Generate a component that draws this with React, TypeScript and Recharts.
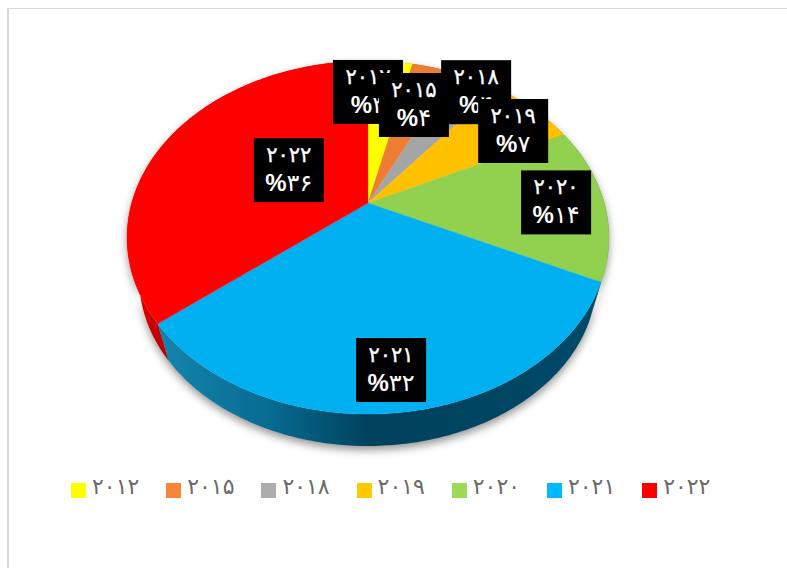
import { Legend, Pie, PieChart } from 'recharts'

const years = ['2012', '2015', '2018', '2019', '2020', '2021', '2022']
const shares = [3.6, 3.5, 3.7, 7, 14.2, 32.2, 35.7]
const percentLabels = [3, 4, 4, 7, 14, 32, 36]

const sliceColors = ['#FFFF00', '#ED7D31', '#A5A5A5', '#FFC000', '#92D050', '#00B0F0', '#FF0000']
const legendColors = ['#FFFF00', '#F98636', '#ADADAD', '#FFC800', '#9CDB55', '#00B9FF', '#FF0000']
const wallFills = ['#a0a000', '#9a4f1e', '#6a6a6a', '#a07a00', '#5c8432', 'url(#wallBlue)', 'url(#wallRed)']

// how far each label box sits from its slice anchor
const labelShifts = [
  [-17.5, -0.6],
  [-5.5, 7.6],
  [24, -15],
  [18, 0.6],
  [11, 0],
  [-1, 19],
  [71, 19],
]

const chartData = years.map((year, i) => ({
  name: year,
  value: shares[i],
  fill: sliceColors[i],
  percent: percentLabels[i],
}))

const WIDTH = 787
const HEIGHT = 568
const CX = 368
const CY = 203
const RADIUS = 236.3
const Y_RATIO = 169.8 / 236.3
const TILT = 0.1955
const BASE_SCALE = 0.95
const BASE_DROP = 42.5
const DIGIT_FONT = '"DejaVu Sans", sans-serif'
const PERCENT_FONT = '"Liberation Sans", "DejaVu Sans", sans-serif'

const toPersian = (n: number | string) =>
  String(n).replace(/\d/g, (d) => '۰۱۲۳۴۵۶۷۸۹'[Number(d)])

// perspective view of the disc: angle in degrees, r from 0 to 1
const project = (angle: number, r = 1, scale = 1, drop = 0) => {
  const a = (angle * Math.PI) / 180
  const u = r * Math.cos(a)
  const v = r * Math.sin(a)
  const w = 1 + TILT * v
  return {
    x: CX + (scale * RADIUS * u) / w,
    y: CY + drop - (scale * RADIUS * Y_RATIO * v) / w,
  }
}

const arcPoints = (start: number, end: number, scale = 1, drop = 0) => {
  const steps = Math.max(2, Math.ceil(Math.abs(start - end)))
  const pts: string[] = []
  for (let i = 0; i <= steps; i++) {
    const p = project(start + ((end - start) * i) / steps, 1, scale, drop)
    pts.push(`${p.x.toFixed(2)},${p.y.toFixed(2)}`)
  }
  return pts
}

const TopSlice = (props: any) => {
  const { startAngle, endAngle, fill } = props
  const d = `M${CX},${CY} L${arcPoints(startAngle, endAngle).join(' L')} Z`
  return <path d={d} fill={fill} stroke={fill} strokeWidth={0.3} />
}

const WallSlice = (props: any) => {
  const { startAngle, endAngle, index } = props
  const top = arcPoints(startAngle, endAngle)
  const bottom = arcPoints(startAngle, endAngle, BASE_SCALE, BASE_DROP).reverse()
  return <path d={`M${top.concat(bottom).join(' L')} Z`} fill={wallFills[index]} />
}

const renderLabel = (props: any) => {
  const { midAngle, index } = props
  const anchor = project(midAngle, 0.75)
  const x = anchor.x + labelShifts[index][0]
  const y = anchor.y + labelShifts[index][1]
  return (
    <g key={index}>
      <rect x={x - 35} y={y - 32} width={70} height={64} fill="#000000" />
      <text
        x={x}
        y={y - 8}
        textAnchor="middle"
        fill="#ffffff"
        stroke="#ffffff"
        strokeWidth={0.35}
        fontFamily={DIGIT_FONT}
        fontSize={21}
        letterSpacing={4}
      >
        {toPersian(years[index])}
      </text>
      <text
        x={x}
        y={y + 21}
        textAnchor="middle"
        fill="#ffffff"
        fontFamily={PERCENT_FONT}
        fontSize={24}
        letterSpacing={1}
      >
        <tspan fontWeight="bold">%</tspan>
        <tspan>{toPersian(percentLabels[index])}</tspan>
      </text>
    </g>
  )
}

const renderLegend = () => (
  <div style={{ display: 'flex', fontFamily: DIGIT_FONT }}>
    {years.map((year, i) => (
      <div key={year} style={{ width: 95.2, flex: 'none', display: 'flex', alignItems: 'center' }}>
        <span
          style={{
            width: 15,
            height: 15,
            marginTop: 6,
            background: legendColors[i],
            display: 'inline-block',
          }}
        />
        <span style={{ marginLeft: 6, color: '#6a6a6a', fontSize: 22, letterSpacing: 3.5, lineHeight: '26px' }}>
          {toPersian(year)}
        </span>
      </div>
    ))}
  </div>
)

const App = () => (
  <div style={{ position: 'absolute', left: 0, top: 0, width: WIDTH, height: HEIGHT, overflow: 'hidden', background: '#fff' }}>
    <div style={{ position: 'absolute', left: 7, top: 8, right: 0, bottom: 0, borderLeft: '2px solid #d9d9d9', borderTop: '1px solid #d9d9d9' }} />
    <style>{`.wall-pie { filter: drop-shadow(0 4px 4px rgba(0,0,0,0.42)); }`}</style>
    <div style={{ position: 'absolute', left: 0, top: 0 }}>
      <PieChart width={WIDTH} height={HEIGHT} margin={{ top: 0, right: 0, bottom: 0, left: 0 }}>
        <defs>
          <linearGradient id="wallBlue" gradientUnits="userSpaceOnUse" x1={158} y1={0} x2={601} y2={0}>
            <stop offset="0" stopColor="#1585ae" />
            <stop offset="0.25" stopColor="#086b92" />
            <stop offset="0.48" stopColor="#00415c" />
            <stop offset="1" stopColor="#004a68" />
          </linearGradient>
          <linearGradient id="wallRed" gradientUnits="userSpaceOnUse" x1={145} y1={0} x2={170} y2={0}>
            <stop offset="0" stopColor="#d40000" />
            <stop offset="1" stopColor="#b00000" />
          </linearGradient>
        </defs>
        <Pie
          data={chartData}
          dataKey="value"
          nameKey="name"
          className="wall-pie"
          cx={CX}
          cy={CY}
          outerRadius={RADIUS}
          startAngle={90}
          endAngle={-270}
          shape={WallSlice}
          legendType="none"
          isAnimationActive={false}
        />
        <Pie
          data={chartData}
          dataKey="value"
          nameKey="name"
          cx={CX}
          cy={CY}
          outerRadius={RADIUS}
          startAngle={90}
          endAngle={-270}
          shape={TopSlice}
          label={renderLabel}
          labelLine={false}
          isAnimationActive={false}
        />
        <Legend
          content={renderLegend}
          layout="horizontal"
          verticalAlign="top"
          align="left"
          wrapperStyle={{ position: 'absolute', left: 71, top: 474, width: 700 }}
        />
      </PieChart>
    </div>
  </div>
)

export default App
